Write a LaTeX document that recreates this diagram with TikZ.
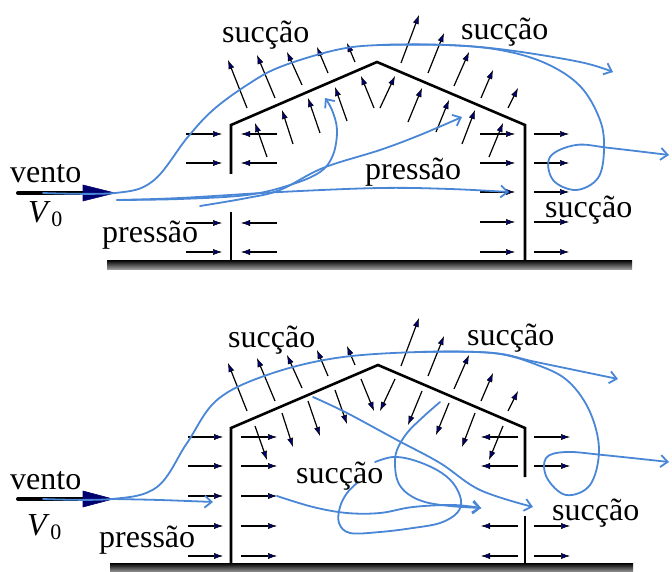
\documentclass[tikz,border=0pt]{standalone}
\usepackage{fontspec}
\setmainfont{Liberation Serif}
\usetikzlibrary{arrows.meta}
\definecolor{flow}{RGB}{74,134,214}
\definecolor{tipblue}{RGB}{0,0,110}

\begin{document}
\begin{tikzpicture}[x=1pt,y=-1pt,
  wall/.style={line width=2.6pt, line join=miter},
  force/.style={line width=1.2pt, -{Latex[length=9pt,width=6pt,fill=tipblue,line width=0.5pt]}},
  flowline/.style={flow, line width=1.8pt, line cap=round},
  flowarrow/.style={flowline, -{Straight Barb[length=7pt,width=12pt]}},
  lbl/.style={inner sep=0pt, anchor=base west, font=\fontsize{32}{32}\selectfont},
  ground/.style={top color=black, bottom color=black!40, draw=none},
  windshaft/.style={line width=4pt, line cap=round},
  windhead/.style={fill=tipblue, draw=tipblue, line width=0.6pt},
]
\useasboundingbox (0,0) rectangle (672,572);

% ===================== upper drawing: opening on the windward wall =====================
\fill[ground] (107,260) rectangle (632,269);
\draw[wall] (231,174) -- (231,125) -- (377,62) -- (525,125) -- (525,260);
\draw[wall] (231,212) -- (231,260);

% wall pressures
\foreach \y in {134,163,223,252} {
  \draw[force] (186,\y) -- (222,\y);
  \draw[force] (277,\y) -- (241,\y);
}
\foreach \y in {134,163,192,222,252} {
  \draw[force] (480,\y) -- (515,\y);
  \draw[force] (534,\y) -- (569,\y);
}
% roof suction outside
\foreach \a/\b/\c/\d in {247/108/228/60, 275/98/257/55, 302/85/287/52, 328/73/317/47, 355/62/347/43,
                         401/63/419/15, 428/73/444/33, 454/86/469/52, 481/98/493/70, 508/108/518/88}
  \draw[force] (\a,\b) -- (\c,\d);
% roof pressure inside
\foreach \a/\b/\c/\d in {267/157/255/123, 293/144/282/110, 320/133/308/98, 347/121/335/87, 374/108/361/76,
                         380/108/395/76, 408/122/422/88, 436/132/449/100, 462/144/475/110, 489/157/503/123}
  \draw[force] (\a,\b) -- (\c,\d);

% wind arrow
\draw[windshaft] (18,193) -- (86,193);
\fill[windhead] (83,185) -- (115,193) -- (83,201) -- cycle;

% streamlines
\draw[flowarrow] plot[smooth, tension=0.6] coordinates {(43,193) (115,193) (153,181) (187,138) (213,110) (247,85) (280,67) (336,50) (380,45) (447,45) (507,50) (580,62) (613,72)};
\draw[flowarrow] plot[smooth, tension=0.6] coordinates {(380,45) (447,45) (500,50) (545,63) (580,86) (600,120) (604,150) (598,178) (576,190) (553,180) (550,157) (576,145) (610,148) (669,155)};
\draw[flowarrow] plot[smooth, tension=0.6] coordinates {(117,200) (180,199) (247,195) (290,185) (320,172) (333,155) (337,130) (332,110) (325,98)};
\draw[flowarrow] plot[smooth, tension=0.6] coordinates {(200,206) (247,198) (280,190) (323,168) (380,150) (420,135) (462,117)};
\draw[flowarrow] plot[smooth, tension=0.6] coordinates {(117,200) (180,198) (280,192) (380,188) (450,189) (509,192)};

% labels
\node[lbl] (sucA1) at (222,43) {sucção};
\node[lbl] (sucA2) at (461,40) {sucção};
\node[lbl] (preA1) at (365,180) {pressão};
\node[lbl] (sucA3) at (545,218) {sucção};
\node[lbl] (preA2) at (102,243) {pressão};
\node[lbl] (venA) at (10,183) {vento};
\node[lbl] (velA) at (28,223) {\itshape V\/\kern0.5pt\raisebox{-4pt}{\upshape\fontsize{22}{22}\selectfont 0}};

% ===================== lower drawing: opening on the leeward wall =====================
\fill[ground] (110,563) rectangle (633,572);
\draw[wall] (231,563) -- (231,428) -- (378,365) -- (525,428) -- (525,477);
\draw[wall] (525,516) -- (525,563);

\foreach \y in {437,466,496,526,556} {
  \draw[force] (188,\y) -- (223,\y);
  \draw[force] (241,\y) -- (277,\y);
}
\foreach \y in {437,466,526,556} {
  \draw[force] (518,\y) -- (481,\y);
  \draw[force] (534,\y) -- (570,\y);
}
\begin{scope}[shift={(0,303)}]
  \foreach \a/\b/\c/\d in {247/108/228/60, 275/98/257/55, 302/85/287/52, 328/73/317/47, 355/62/347/43,
                           401/63/419/15, 428/73/444/33, 454/86/469/52, 481/98/493/70, 508/108/518/88}
    \draw[force] (\a,\b) -- (\c,\d);
  \foreach \a/\b/\c/\d in {267/157/255/123, 293/144/282/110, 320/133/308/98, 347/121/335/87, 374/108/361/76,
                           380/108/395/76, 408/122/422/88, 436/132/449/100, 462/144/475/110, 489/157/503/123}
    \draw[force] (\c,\d) -- (\a,\b);
\end{scope}

\draw[windshaft] (18,499) -- (86,499);
\fill[windhead] (83,491) -- (113,499) -- (83,507) -- cycle;

\draw[flowarrow] plot[smooth, tension=0.6] coordinates {(43,499) (112,499) (157,487) (187,443) (217,400) (267,375) (336,358) (419,352) (493,353) (536,362) (618,379)};
\draw[flowarrow] plot[smooth, tension=0.6] coordinates {(419,352) (493,353) (540,366) (569,382) (590,412) (599,450) (590,485) (566,495) (547,478) (546,458) (566,452) (603,455) (669,462)};
\draw[flowarrow] plot[smooth, tension=0.6] coordinates {(112,499) (160,500) (213,502)};
\draw[flowarrow] plot[smooth, tension=0.6] coordinates {(313,397) (347,413) (397,440) (440,463) (480,490) (533,507)};
\draw[flowarrow] plot[smooth, tension=0.6] coordinates {(277,496) (313,507) (347,513) (380,513) (413,507) (453,505) (481,508)};
\draw[flowarrow] plot[smooth, tension=0.6] coordinates {(440,402) (423,417) (407,433) (397,450) (395,465) (398,482) (408,494) (425,502) (450,506) (481,508)};
\draw[flowline] plot[smooth, tension=0.6] coordinates {(375,462) (393,457) (413,460) (437,470) (453,483) (461,500) (457,513) (440,523) (413,528) (380,532) (350,533) (339,523) (340,507) (347,493) (357,483)};

\node[lbl] (sucB1) at (228,347) {sucção};
\node[lbl] (sucB2) at (467,345) {sucção};
\node[lbl] (sucB3) at (296,483) {sucção};
\node[lbl] (sucB4) at (552,520) {sucção};
\node[lbl] (preB) at (99,547) {pressão};
\node[lbl] (venB) at (10,489) {vento};
\node[lbl] (velB) at (27,535) {\itshape V\/\kern0.5pt\raisebox{-4pt}{\upshape\fontsize{22}{22}\selectfont 0}};
\end{tikzpicture}
\end{document}
